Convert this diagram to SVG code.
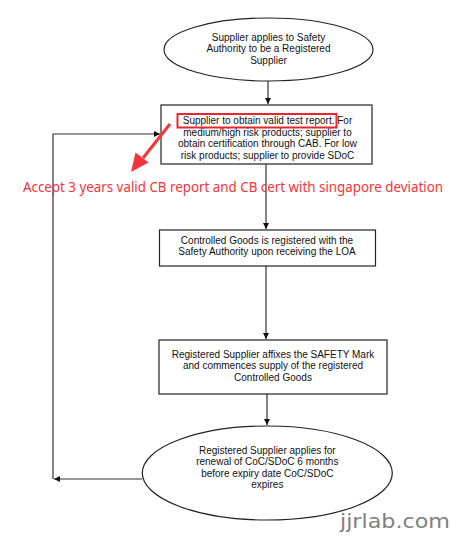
<svg xmlns="http://www.w3.org/2000/svg" width="451" height="536" viewBox="0 0 451 536">
<defs>
<marker id="ah" viewBox="0 0 10 10" refX="10" refY="5" markerWidth="6" markerHeight="6" markerUnits="userSpaceOnUse" orient="auto">
<path d="M0,0 L10,5 L0,10 z" fill="#111"/>
</marker>
<style>
.shape{fill:#fff;stroke:#222;stroke-width:1.2}
.t{font-family:"Liberation Sans",Arial,sans-serif;font-size:10px;fill:#111;text-anchor:middle}
.c{fill:none;stroke:#333;stroke-width:1.2}
.red{font-family:"Noto Sans","Open Sans",sans-serif;font-size:14px;fill:#f2353b}
</style>
</defs>
<rect width="451" height="536" fill="#fff"/>
<g id="connectors">
<path class="c" d="M268,81 V104" marker-end="url(#ah)"/>
<path class="c" d="M266,164 V229" marker-end="url(#ah)"/>
<path class="c" d="M266,266 V339" marker-end="url(#ah)"/>
<path class="c" d="M267,394 V425" marker-end="url(#ah)"/>
<path class="c" d="M142,479 H54" marker-end="url(#ah)"/>
<path class="c" d="M53,479 V134 H160" marker-end="url(#ah)"/>
</g>
<g id="n1">
<ellipse class="shape" cx="268.5" cy="49.5" rx="104.5" ry="31.5"/>
<text class="t" x="268.5" y="40.5">Supplier applies to Safety</text>
<text class="t" x="268.5" y="52">Authority to be a Registered</text>
<text class="t" x="268.5" y="63.5">Supplier</text>
</g>
<g id="n2">
<rect class="shape" x="161" y="105" width="211" height="59"/>
<text class="t" x="267.5" y="124">Supplier to obtain valid test report. For</text>
<text class="t" x="267.5" y="135.5">medium/high risk products; supplier to</text>
<text class="t" x="267.5" y="147">obtain certification through CAB. For low</text>
<text class="t" x="267.5" y="158.5">risk products; supplier to provide SDoC</text>
</g>
<g id="n3">
<rect class="shape" x="159.5" y="230" width="216" height="36"/>
<text class="t" x="267" y="243.5">Controlled Goods is registered with the</text>
<text class="t" x="267" y="255">Safety Authority upon receiving the LOA</text>
</g>
<g id="n4">
<rect class="shape" x="159" y="340" width="228" height="54"/>
<text class="t" x="273" y="357.5">Registered Supplier affixes the SAFETY Mark</text>
<text class="t" x="273" y="369">and commences supply of the registered</text>
<text class="t" x="273" y="380.5">Controlled Goods</text>
</g>
<g id="n5">
<ellipse class="shape" cx="267.3" cy="473" rx="125" ry="47"/>
<text class="t" x="267.3" y="453.5">Registered Supplier applies for</text>
<text class="t" x="267.3" y="465">renewal of CoC/SDoC 6 months</text>
<text class="t" x="267.3" y="476.5">before expiry date CoC/SDoC</text>
<text class="t" x="267.3" y="488">expires</text>
</g>
<g id="annotation">
<rect x="177.5" y="114" width="159" height="13.5" fill="none" stroke="#e8262c" stroke-width="2"/>
<path d="M170,124 L143,158" stroke="#f2353b" stroke-width="3" fill="none"/>
<polygon points="131,172 135.5,152.5 148.5,162.5" fill="#f2353b"/>
<text class="red" x="23" y="192" textLength="420" lengthAdjust="spacingAndGlyphs">Accept 3 years valid CB report and CB cert with singapore deviation</text>
</g>
<text x="340" y="528" font-family="DejaVu Sans,sans-serif" font-size="20" fill="#808080" textLength="110" lengthAdjust="spacingAndGlyphs">jjrlab.com</text>
</svg>
